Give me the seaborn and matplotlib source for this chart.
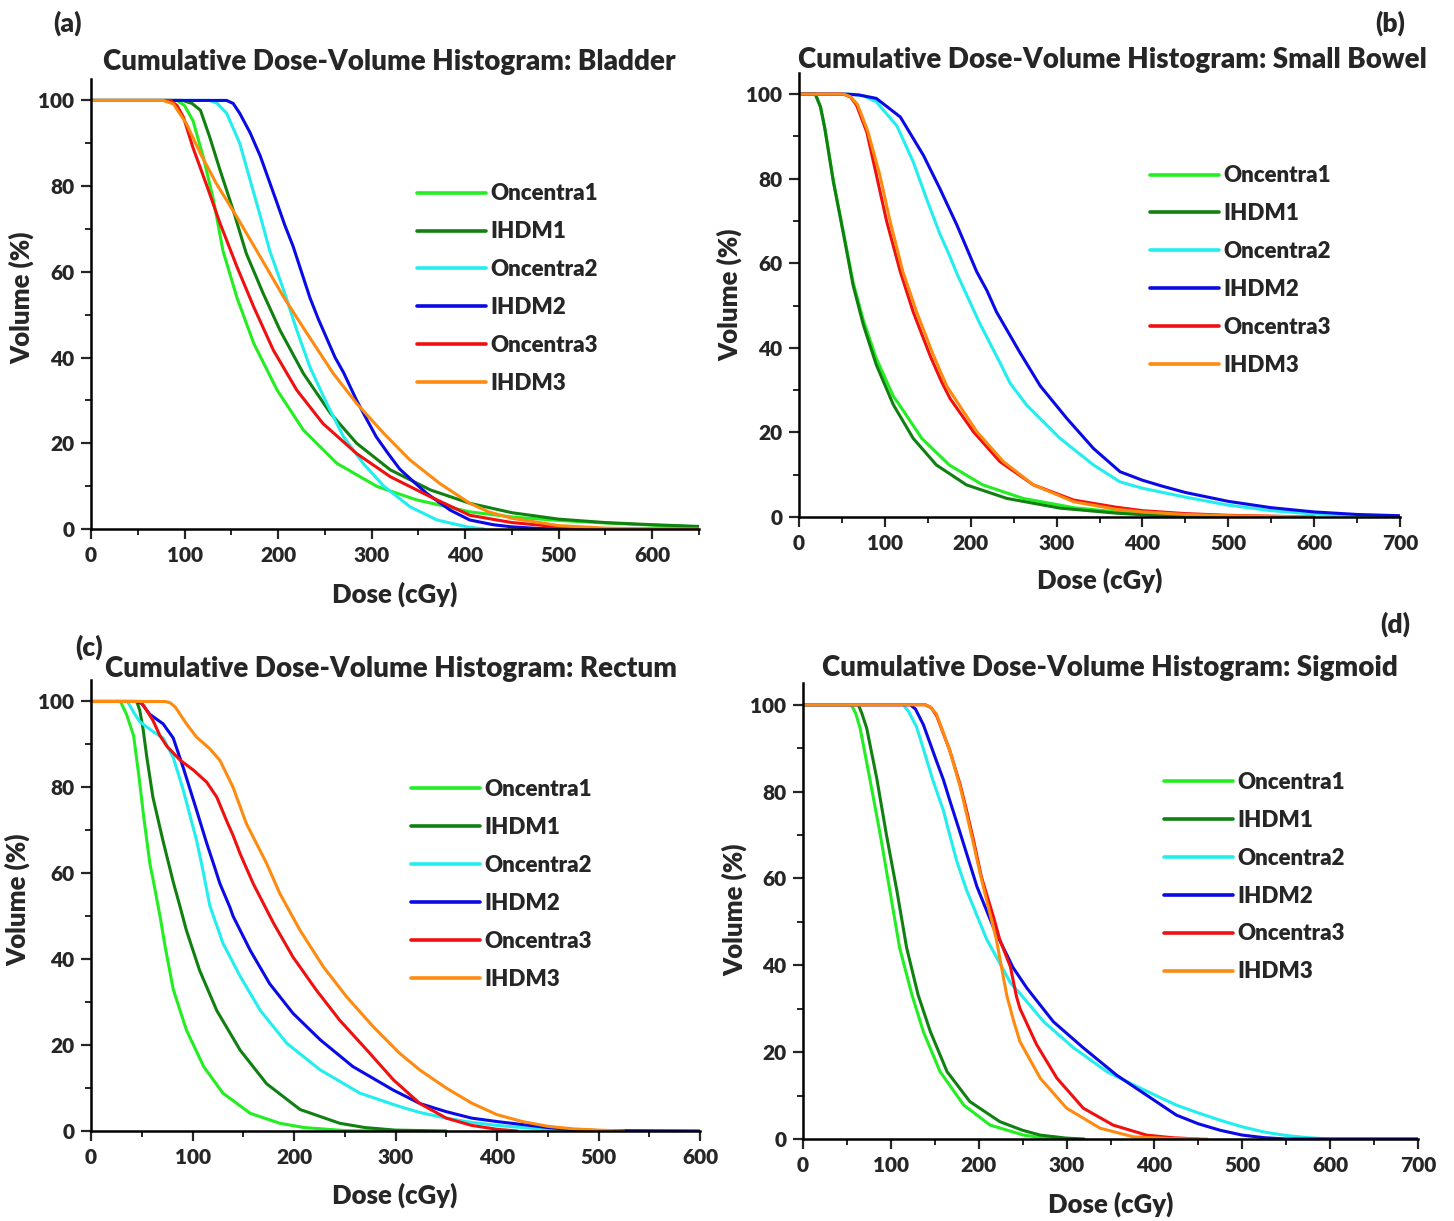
import numpy as np
import pandas as pd
import seaborn as sns
import matplotlib.pyplot as plt
from matplotlib.ticker import MultipleLocator

sns.set_style('white')
plt.rcParams['font.family'] = ['Lato', 'DejaVu Sans']
plt.rcParams['font.weight'] = 'heavy'

plans = ['Oncentra1', 'IHDM1', 'Oncentra2', 'IHDM2', 'Oncentra3', 'IHDM3']
colors = ['#22ee22', '#108010', '#22eeee', '#0a0ae6', '#f01010', '#ff8a10']

# (dose cGy, volume %)
# Bladder
bl_onc1 = [(0,100),(92,100),(100,98.8),(109,95.3),(120,86.8),(131,76.7),(141,65),(156,54),(174,43.3),(199,32.4),(227,23.1),(263,15.3),(306,9.9),(348,6.8),(405,4),(450,2.8),(500,2),(550,1.4),(600,0.9),(650,0.5)]
bl_ihdm1 = [(0,100),(98,100),(108,99.3),(117,97.7),(127,91.4),(138,83.7),(152,74.4),(166,64.3),(184,55),(202,46.4),(227,36.3),(256,27),(284,20),(320,13.8),(363,9.1),(405,6),(450,3.8),(500,2.3),(550,1.5),(600,1.0),(650,0.6)]
bl_onc2 = [(0,100),(127,100),(135,99.3),(145,97),(159,90),(170,81.5),(181,73),(191,65),(206,55.7),(220,46.4),(234,37.8),(252,29.3),(270,21.5),(291,15.3),(313,10),(341,5.2),(370,2.1),(402,0.5),(420,0)]
bl_ihdm2 = [(0,100),(145,100),(152,99.3),(159,97),(170,92.5),(181,87),(190,81.5),(199,76),(207,71),(216,66),(225,60),(234,54),(243,49),(252,44.5),(261,40),(270,36.5),(284,30),(295,25.5),(305,21.5),(318,17.5),(330,14),(345,11),(359,8.3),(384,4.4),(405,2.1),(430,1),(450,0.5),(480,0.1),(510,0)]
bl_onc3 = [(0,100),(85,100),(92,98.8),(99,96),(109,89),(124,80),(138,71.3),(156,61.2),(174,51.8),(195,41.7),(220,32.4),(248,24.6),(284,17.6),(320,12.2),(363,7.5),(405,3.2),(450,1.5),(500,0.5),(550,0),(650,0)]
bl_ihdm3 = [(0,100),(77,100),(88,99.2),(102,94.6),(117,87.6),(134,80.6),(156,72.8),(181,63.5),(206,54.1),(231,45.6),(259,36.3),(284,29.3),(313,22.3),(341,16.1),(373,10.6),(405,6),(425,4),(450,2.5),(500,0.8),(550,0.2),(600,0),(650,0)]

# Small bowel
sb_onc1 = [(0,100),(19,100),(25,97),(30,92),(40,79.5),(52,67),(63,55.5),(75,46.5),(90,37.5),(110,28.5),(117,26.5),(143,18.6),(175,12.3),(214,7.6),(261,4.4),(320,2.2),(380,1),(430,0.4),(500,0)]
sb_ihdm1 = [(0,100),(19,100),(25,97),(30,92),(40,79.3),(52,66.7),(63,54.8),(75,45.4),(90,36),(110,26.5),(133,18.6),(160,12.3),(195,7.6),(242,4.4),(304,2.1),(370,0.9),(420,0.3),(480,0)]
sb_onc2 = [(0,100),(60,100),(75,99.6),(90,98.2),(114,92.5),(133,84),(149,75),(164,67),(176,61.5),(184,57.5),(210,46),(234,36.5),(246,31.6),(265,26.5),(304,18.6),(343,12.3),(374,8.3),(400,6.8),(450,4.7),(500,2.8),(550,1.5),(600,0.7),(650,0.2),(700,0)]
sb_ihdm2 = [(0,100),(55,100),(70,99.8),(90,99),(118,94.6),(145,85.5),(164,77.7),(184,69),(207,58),(219,53.5),(230,48.5),(257,39),(281,31),(312,23.3),(343,16.2),(374,10.7),(400,8.7),(423,7.3),(450,5.8),(500,3.7),(550,2.2),(600,1.2),(650,0.6),(700,0.3)]
sb_onc3 = [(0,100),(52,100),(60,99.3),(67,97.4),(79,91),(90,81),(102,70),(118,58),(133,48.5),(153,38),(166,32),(176,28),(203,20.2),(234,13.1),(273,7.6),(320,4),(370,2.3),(400,1.5),(450,0.8),(500,0.4),(600,0)]
sb_ihdm3 = [(0,100),(52,100),(60,99.4),(68,97.6),(80,91.3),(94,81),(106,70),(121,58),(137,48.5),(156,38.5),(172,31),(180,28.5),(207,20.2),(238,13.1),(273,7.6),(320,3.6),(370,1.8),(400,1.2),(450,0.6),(500,0.3),(600,0)]

# Rectum
re_onc1 = [(0,100),(29,100),(35,97),(42,92),(47,83),(52,73),(58,62.3),(62,57.5),(68,50),(73,43),(81,33),(94,23.5),(111,15),(130,8.8),(157,4.1),(186,1.8),(210,0.8),(250,0.1),(300,0)]
re_ihdm1 = [(0,100),(45,100),(48,98),(51.5,93.3),(55,87),(61,77.7),(71,67.5),(81,58),(88,52),(94,46.7),(107,37.4),(124,28),(147,18.8),(173,11),(206,5),(245,1.8),(270,0.8),(300,0.2),(350,0)]
re_onc2 = [(0,100),(36,100),(42,97.5),(48,95.3),(61,93),(71,91.5),(81,87),(91,79.3),(98,73),(104,67.7),(110,61),(117,52.5),(130,43.7),(147,36),(167,28),(193,20.4),(226,14.2),(265,8.8),(304,5.7),(324,4.3),(350,3),(375,2),(400,1.3),(450,0.3),(500,0)]
re_ihdm2 = [(0,100),(45,100),(50,99.5),(58,97),(71,94.8),(81,91.5),(91,84.5),(104,74.7),(114,67),(121,62),(127,57.6),(137,52),(140,50),(157,42),(176,34.3),(199,27.4),(226,21.2),(258,15),(298,9.5),(324,6.4),(350,4.5),(375,3),(400,2.2),(425,1.5),(450,0.8),(475,0.3),(500,0.1),(600,0)]
re_onc3 = [(0,100),(48,100),(52,99),(61,95.6),(68,92),(75,89.5),(88,86.3),(101,84),(114,81.2),(124,77.7),(134,72),(140,68.8),(147,64.5),(160,57.5),(180,48.3),(199,40.5),(222,32.8),(245,25.8),(272,18.8),(298,11.9),(324,6.4),(350,3),(375,1.3),(400,0.4),(420,0)]
re_ihdm3 = [(0,100),(73,100),(78,99.7),(83,98.7),(94,94.8),(104,91.7),(117,89),(127,86.3),(140,80),(153,71.6),(173,62.3),(186,55.3),(206,46.7),(229,38.2),(252,31.2),(278,24.3),(304,18.1),(324,14.2),(350,10),(375,6.5),(400,3.8),(425,2.2),(450,1.1),(475,0.5),(500,0.2),(525,0)]

# Sigmoid
sg_onc1 = [(0,100),(55,100),(60,98),(65,94.6),(76,83),(88,70),(99,57),(110,44),(124,33.2),(137,24.7),(156,15.5),(183,7.8),(213,3.2),(251,0.9),(275,0.2),(300,0)]
sg_ihdm1 = [(0,100),(63,100),(67,98),(72.5,94.6),(84,83),(95,70),(107,57),(118,44),(131,33.2),(145,24.7),(164,15.5),(190,8.6),(224,4),(250,2),(270,0.9),(300,0.2),(320,0)]
sg_onc2 = [(0,100),(114,100),(120,98.5),(129,95),(133,92.5),(148,82.5),(160,75.5),(167,70),(175,64),(186,57.4),(209,46),(224,40.5),(236,36),(247,33.5),(274,27),(308,21),(346,15.5),(384,11.7),(425,7.8),(450,6),(475,4.3),(500,2.8),(525,1.6),(550,0.8),(575,0.3),(600,0),(700,0)]
sg_ihdm2 = [(0,100),(122,100),(128,99),(137,95.4),(152,87),(160,82.6),(167,78),(179,70.4),(198,58.1),(217,48.6),(232,42.4),(239,39.5),(255,34.7),(262,32.9),(285,27),(319,21),(357,14.7),(391,10.1),(425,5.5),(450,3.5),(475,2),(500,0.9),(525,0.3),(550,0),(700,0)]
sg_onc3 = [(0,100),(139,100),(146,99.3),(152,97.5),(167,89.5),(179,81.5),(186,75.8),(194,68.9),(203,60.4),(217,51),(224,45.9),(236,39.7),(243,32.8),(247,30),(266,21.7),(289,14),(319,7.1),(353,3.2),(391,0.9),(420,0.3),(450,0)]
sg_ihdm3 = [(0,100),(139,100),(145,99.5),(152,97.8),(167,89.5),(179,81),(186,75),(194,68),(201.5,61.2),(209,55),(220,46),(226,39.5),(232,33),(240,27),(247,22.4),(270,14),(300,7.1),(338,2.5),(376,0.5),(420,0.1),(460,0)]

W, H = 1454, 1221


def frame(curves):
    parts = []
    for name, pts in zip(plans, curves):
        d = pd.DataFrame(pts, columns=['dose', 'vol'])
        d['plan'] = name
        parts.append(d)
    return pd.concat(parts, ignore_index=True)


# pixel boxes: left, right, bottom(0 %), top(ylim top)
panels = [
    dict(curves=[bl_onc1, bl_ihdm1, bl_onc2, bl_ihdm2, bl_onc3, bl_ihdm3], box=(91, 699, 529, 79), xmax=650,
         title='Cumulative Dose-Volume Histogram: Bladder', tpos=(389, 62), xl=(395, 594), yl=(22, 298),
         leg=(0.536, 0.768), tag='(a)', tagpos=(68, 23)),
    dict(curves=[sb_onc1, sb_ihdm1, sb_onc2, sb_ihdm2, sb_onc3, sb_ihdm3], box=(799, 1400, 517, 73), xmax=700,
         title='Cumulative Dose-Volume Histogram: Small Bowel', tpos=(1112, 60), xl=(1100, 580), yl=(730, 295),
         leg=(0.584, 0.792), tag='(b)', tagpos=(1390, 23)),
    dict(curves=[re_onc1, re_ihdm1, re_onc2, re_ihdm2, re_onc3, re_ihdm3], box=(91, 700, 1131, 680), xmax=600,
         title='Cumulative Dose-Volume Histogram: Rectum', tpos=(391, 669), xl=(395, 1195), yl=(18, 900),
         leg=(0.525, 0.78), tag='(c)', tagpos=(89, 647)),
    dict(curves=[sg_onc1, sg_ihdm1, sg_onc2, sg_ihdm2, sg_onc3, sg_ihdm3], box=(803, 1418, 1139, 683), xmax=700,
         title='Cumulative Dose-Volume Histogram: Sigmoid', tpos=(1110, 668), xl=(1111, 1204), yl=(735, 910),
         leg=(0.587, 0.805), tag='(d)', tagpos=(1395, 624)),
]

fig = plt.figure(figsize=(W / 100, H / 100), dpi=100)

for p in panels:
    l, r, b, t = p['box']
    ax = fig.add_axes([l / W, 1 - b / H, (r - l) / W, (b - t) / H])
    df = frame(p['curves'])
    sns.lineplot(data=df, x='dose', y='vol', hue='plan', hue_order=plans, palette=colors,
                 estimator=None, sort=False, lw=2.2, ax=ax)
    ax.set_xlim(0, p['xmax'])
    ax.set_ylim(0, 105)
    for s in ['top', 'right']:
        ax.spines[s].set_visible(False)
    for s in ['left', 'bottom']:
        ax.spines[s].set_linewidth(1.8)
        ax.spines[s].set_color('black')
    ax.xaxis.set_major_locator(MultipleLocator(100))
    ax.xaxis.set_minor_locator(MultipleLocator(50))
    ax.yaxis.set_major_locator(MultipleLocator(20))
    ax.yaxis.set_minor_locator(MultipleLocator(10))
    ax.tick_params(which='major', direction='out', length=7, width=1.6, labelsize=15, pad=5,
                   bottom=True, left=True)
    ax.tick_params(which='minor', direction='out', length=4, width=1.4, bottom=True, left=True)
    for lab in ax.get_xticklabels() + ax.get_yticklabels():
        lab.set_fontweight('heavy')
    ax.set_xlabel('')
    ax.set_ylabel('')
    ax.legend(frameon=False, loc='upper left', bbox_to_anchor=p['leg'], borderaxespad=0, borderpad=0,
              handlelength=3.1, handletextpad=0.2, labelspacing=0.76,
              prop={'size': 16, 'weight': 'heavy'})
    for line in ax.get_legend().get_lines():
        line.set_linewidth(2.6)
    fig.text(p['tpos'][0] / W, 1 - p['tpos'][1] / H, p['title'], ha='center', va='center',
             fontsize=20, fontweight='heavy')
    fig.text(p['xl'][0] / W, 1 - p['xl'][1] / H, 'Dose (cGy)', ha='center', va='center',
             fontsize=18.5, fontweight='heavy')
    fig.text(p['yl'][0] / W, 1 - p['yl'][1] / H, 'Volume (%)', ha='center', va='center',
             fontsize=18.5, fontweight='heavy', rotation=90)
    fig.text(p['tagpos'][0] / W, 1 - p['tagpos'][1] / H, p['tag'], ha='center', va='center',
             fontsize=19, fontweight='heavy')

fig.savefig('out.png', dpi=100, facecolor='white')
